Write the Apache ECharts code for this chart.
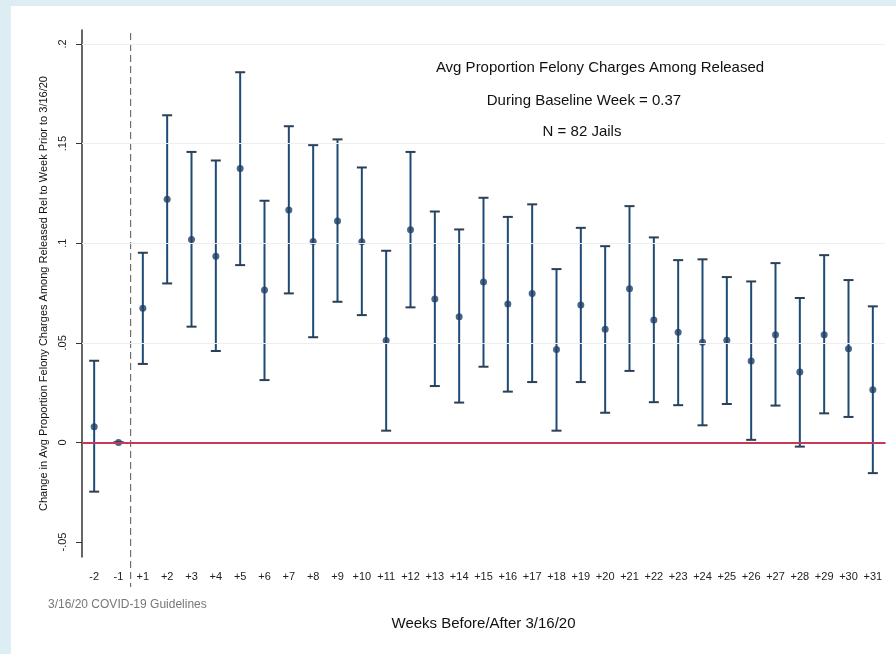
<!DOCTYPE html>
<html>
<head>
<meta charset="utf-8">
<script src="https://cdn.jsdelivr.net/npm/echarts@6/dist/echarts.min.js"></script>
<style>
  html, body { margin: 0; padding: 0; }
  body { width: 896px; height: 654px; background: #dcedf3; position: relative; overflow: hidden; }
  #chart { position: absolute; left: 11px; top: 6px; width: 885px; height: 648px; background: #ffffff; }
</style>
</head>
<body>
<div id="chart"></div>
<script>
// weeks relative to 3/16/20
const weeks = ["-2", "-1", "+1", "+2", "+3", "+4", "+5", "+6", "+7", "+8", "+9", "+10", "+11", "+12",
  "+13", "+14", "+15", "+16", "+17", "+18", "+19", "+20", "+21", "+22", "+23", "+24", "+25", "+26",
  "+27", "+28", "+29", "+30", "+31"];

// point estimates
const estimate = [0.0079, 0, 0.0673, 0.1221, 0.1019, 0.0935, 0.1375, 0.0765, 0.1166, 0.1009, 0.1112,
  0.1007, 0.0511, 0.1067, 0.0720, 0.0631, 0.0805, 0.0695, 0.0748, 0.0467, 0.0690, 0.0568, 0.0771,
  0.0614, 0.0553, 0.0503, 0.0513, 0.0409, 0.0541, 0.0354, 0.0541, 0.0470, 0.0265];

// confidence interval bounds
const lower = [-0.0247, 0, 0.0394, 0.0798, 0.0581, 0.0459, 0.0890, 0.0313, 0.0748, 0.0528, 0.0706,
  0.0639, 0.0059, 0.0678, 0.0283, 0.0200, 0.0380, 0.0255, 0.0303, 0.0059, 0.0303, 0.0149, 0.0359,
  0.0202, 0.0187, 0.0086, 0.0193, 0.0013, 0.0185, -0.0021, 0.0146, 0.0128, -0.0154];
const upper = [0.0410, 0, 0.0952, 0.1642, 0.1458, 0.1415, 0.1858, 0.1213, 0.1587, 0.1492, 0.1521,
  0.1380, 0.0962, 0.1458, 0.1159, 0.1069, 0.1228, 0.1132, 0.1195, 0.0870, 0.1077, 0.0985, 0.1186,
  0.1029, 0.0915, 0.0919, 0.0830, 0.0808, 0.0900, 0.0725, 0.0940, 0.0815, 0.0683];

// y axis ticks
const yTicks = [-0.05, 0, 0.05, 0.1, 0.15, 0.2];
const yTickLabels = ["-.05", "0", ".05", ".1", ".15", ".2"];
const gridValues = [0.05, 0.1, 0.15, 0.2];

// guideline sits between these two weeks
const guideBetween = ["-1", "+1"];

const navy = "#1f4a75";
const font = "Liberation Sans, Arial, Helvetica, sans-serif";

const chart = echarts.init(document.getElementById("chart"), null, { renderer: "canvas" });

const ciData = weeks.map((w, i) => [i, lower[i], upper[i]]);

chart.setOption({
  animation: false,
  textStyle: { fontFamily: font },
  grid: { left: 71, right: 11, top: 24, bottom: 97 },
  xAxis: {
    type: "category",
    data: weeks,
    boundaryGap: true,
    name: "Weeks Before/After 3/16/20",
    nameLocation: "middle",
    nameGap: 59,
    nameTextStyle: { fontSize: 15, color: "#111", fontFamily: font },
    axisLine: { lineStyle: { color: "#333", width: 1.5 } },
    axisTick: { alignWithLabel: true, length: 7, lineStyle: { color: "#333" }, interval: 0 },
    axisLabel: { interval: 0, fontSize: 11, color: "#222", margin: 14, fontFamily: font },
    splitLine: { show: false }
  },
  yAxis: {
    type: "value",
    min: -0.0575,
    max: 0.207,
    name: "Change in Avg Proportion Felony Charges Among Released Rel to Week Prior to 3/16/20",
    nameLocation: "middle",
    nameRotate: 90,
    nameGap: 28,
    nameTextStyle: { fontSize: 11, color: "#111", fontFamily: font },
    axisLine: { show: true, lineStyle: { color: "#333", width: 1.5 } },
    axisTick: { show: true, length: 6, customValues: yTicks, lineStyle: { color: "#333" } },
    axisLabel: {
      rotate: 90,
      fontSize: 11,
      color: "#222",
      margin: 14,
      customValues: yTicks,
      formatter: v => {
        const k = yTicks.findIndex(t => Math.abs(t - v) < 1e-9);
        return k >= 0 ? yTickLabels[k] : "";
      }
    },
    splitLine: { show: false }
  },
  graphic: [
    { type: "text", x: 589, y: 62,
      style: { text: "Avg Proportion Felony Charges Among Released", fontSize: 15, fill: "#111",
        fontFamily: font, textAlign: "center", textVerticalAlign: "middle" } },
    { type: "text", x: 573, y: 95,
      style: { text: "During Baseline Week = 0.37", fontSize: 15, fill: "#111",
        fontFamily: font, textAlign: "center", textVerticalAlign: "middle" } },
    { type: "text", x: 571, y: 126,
      style: { text: "N = 82 Jails", fontSize: 15, fill: "#111",
        fontFamily: font, textAlign: "center", textVerticalAlign: "middle" } },
    { type: "text", x: 37, y: 599,
      style: { text: "3/16/20 COVID-19 Guidelines", fontSize: 12, fill: "#777",
        fontFamily: font, textAlign: "left", textVerticalAlign: "middle" } }
  ],
  series: [
    {
      // faint horizontal grid lines and the zero reference line
      type: "line",
      data: [],
      silent: true,
      markLine: {
        symbol: "none",
        silent: true,
        label: { show: false },
        data: gridValues.map(v => ({ yAxis: v, lineStyle: { color: "#eeeeee", width: 1, type: "solid" } }))
          .concat([{ yAxis: 0, lineStyle: { color: "#c8385a", width: 2, type: "solid" } }])
      }
    },
    {
      // dashed guideline between week -1 and +1
      type: "custom",
      silent: true,
      clip: false,
      data: [[0]],
      z: 1,
      renderItem: (params, api) => {
        const a = api.coord([weeks.indexOf(guideBetween[0]), 0]);
        const b = api.coord([weeks.indexOf(guideBetween[1]), 0]);
        const x = (a[0] + b[0]) / 2;
        const cs = params.coordSys;
        return {
          type: "line",
          shape: { x1: x, y1: cs.y + 3, x2: x, y2: cs.y + cs.height + 30 },
          style: { stroke: "#555", lineWidth: 1, lineDash: [7, 4] }
        };
      }
    },
    {
      // confidence intervals
      type: "custom",
      data: ciData,
      z: 3,
      renderItem: (params, api) => {
        const lo = api.coord([api.value(0), api.value(1)]);
        const hi = api.coord([api.value(0), api.value(2)]);
        const cap = 5;
        const style = { stroke: navy, lineWidth: 2 };
        return {
          type: "group",
          children: [
            { type: "line", shape: { x1: lo[0], y1: lo[1], x2: hi[0], y2: hi[1] }, style },
            { type: "line", shape: { x1: lo[0] - cap, y1: lo[1], x2: lo[0] + cap, y2: lo[1] },
              style: { stroke: "#2b3f55", lineWidth: 2 } },
            { type: "line", shape: { x1: hi[0] - cap, y1: hi[1], x2: hi[0] + cap, y2: hi[1] },
              style: { stroke: "#2b3f55", lineWidth: 2 } }
          ]
        };
      }
    },
    {
      type: "scatter",
      data: estimate,
      symbol: "circle",
      symbolSize: 7,
      z: 4,
      itemStyle: { color: "#1d3f66" }
    }
  ]
});
</script>
</body>
</html>
